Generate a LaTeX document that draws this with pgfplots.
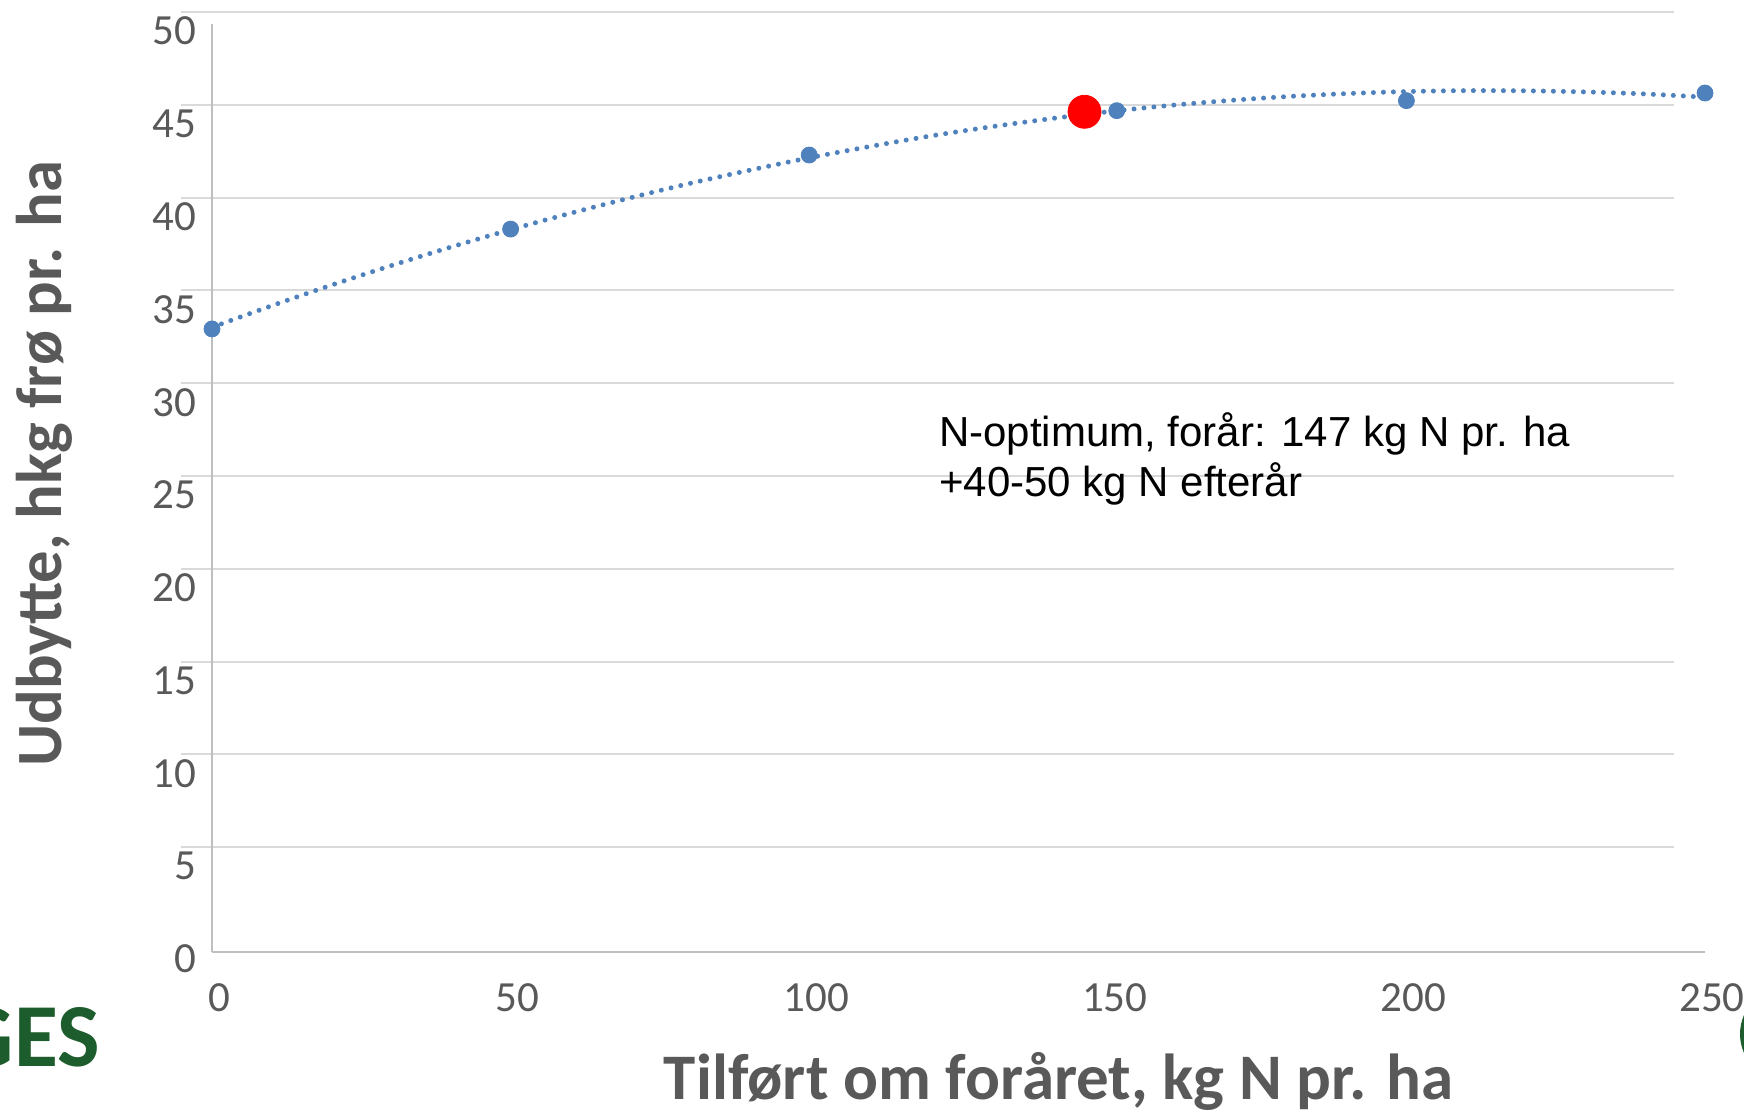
\documentclass[border=0pt]{standalone}
\usepackage{fontspec}
\setmainfont{Carlito}
\newfontfamily\arial{Liberation Sans}
\usepackage{pgfplots}
\pgfplotsset{compat=1.18}
\definecolor{trendblue}{HTML}{4F81BD}
\definecolor{labelgray}{HTML}{595959}
\definecolor{gridgray}{HTML}{D9D9D9}
\definecolor{axisgray}{HTML}{BFBFBF}
\definecolor{segesgreen}{HTML}{1D5C2C}

\begin{document}
\begin{tikzpicture}
% grid layer (slightly offset, as in the reference)
\begin{axis}[
  at={(90.5pt,87pt)}, anchor=south west, scale only axis,
  width=746.5pt, height=464pt,
  xmin=0, xmax=250, ymin=0, ymax=50,
  axis line style={draw=none},
  xtick=\empty, ytick={5,10,...,50}, yticklabels={},
  major tick length=0pt,
  ymajorgrids, major grid style={gridgray, line width=1pt},
]
\end{axis}

\begin{axis}[
  at={(106pt,81pt)}, anchor=south west, scale only axis,
  width=746.5pt, height=464pt,
  xmin=0, xmax=250, ymin=0, ymax=50,
  clip=false,
  axis x line*=bottom, axis y line*=left,
  axis line style={-, axisgray, line width=1.2pt},
  xtick={0,50,...,250}, ytick={0,5,...,50},
  major tick length=0pt, tick style={draw=none},
  /pgf/number format/assume math mode=true,
  tick label style={font=\fontsize{21.5}{25}\selectfont, text=labelgray},
  yticklabel style={anchor=east, inner sep=0pt, xshift=-7.8pt, yshift=-3.5pt},
  xticklabel style={anchor=north, inner sep=0pt, yshift=-15.5pt, xshift=3.5pt},
  xlabel={Tilført om foråret, kg N pr. ha},
  ylabel={Udbytte, hkg frø pr. ha},
  xlabel style={font=\bfseries\fontsize{32.5}{38}\selectfont, text=labelgray,
    at={(axis description cs:0.567,-0.1585)}, anchor=base},
  ylabel style={font=\bfseries\fontsize{32.3}{38}\selectfont, text=labelgray,
    at={(axis description cs:-0.1005,0.526)}, anchor=base},
]
% trend line (quadratic fit)
\addplot[trendblue, line width=2.5pt, dash pattern=on 0pt off 5pt, line cap=round, smooth]
coordinates {
(0,33.66)(10,34.82)(20,35.93)(30,36.98)(40,37.98)(50,38.92)(60,39.80)(70,40.63)
(80,41.41)(90,42.12)(100,42.79)(110,43.39)(120,43.95)(130,44.44)(140,44.88)
(150,45.27)(160,45.60)(170,45.87)(180,46.09)(190,46.25)(200,46.36)(210,46.41)
(220,46.40)(230,46.34)(240,46.23)(250,46.06)
};
% observed yields
\addplot[only marks, mark=*, mark size=4pt, mark options={draw=trendblue, fill=trendblue}]
coordinates {(0,33.57)(50,38.95)(100,42.94)(151.5,45.33)(200,45.87)(250,46.28)};
% N-optimum
\addplot[only marks, mark=*, mark size=8.25pt, mark options={draw=red, fill=red}]
coordinates {(146.1,45.27)};

\node[anchor=north west, inner sep=0pt, align=left,
  font=\arial\fontsize{21}{25}\selectfont] at (axis cs:121.7,29.1)
  {N-optimum, forår: 147 kg N pr. ha\\+40-50 kg N efterår};
\end{axis}

% partial logos at the page edges
\node[anchor=east, inner sep=0pt, font=\bfseries\fontsize{45}{50}\selectfont,
  text=segesgreen] at (50pt,38.5pt) {SEGES};
\fill[segesgreen] (893.5pt,40pt) circle (23.5pt);

\pgfresetboundingbox
\path[use as bounding box] (0,0) rectangle (872pt,557pt);
\end{tikzpicture}
\end{document}
